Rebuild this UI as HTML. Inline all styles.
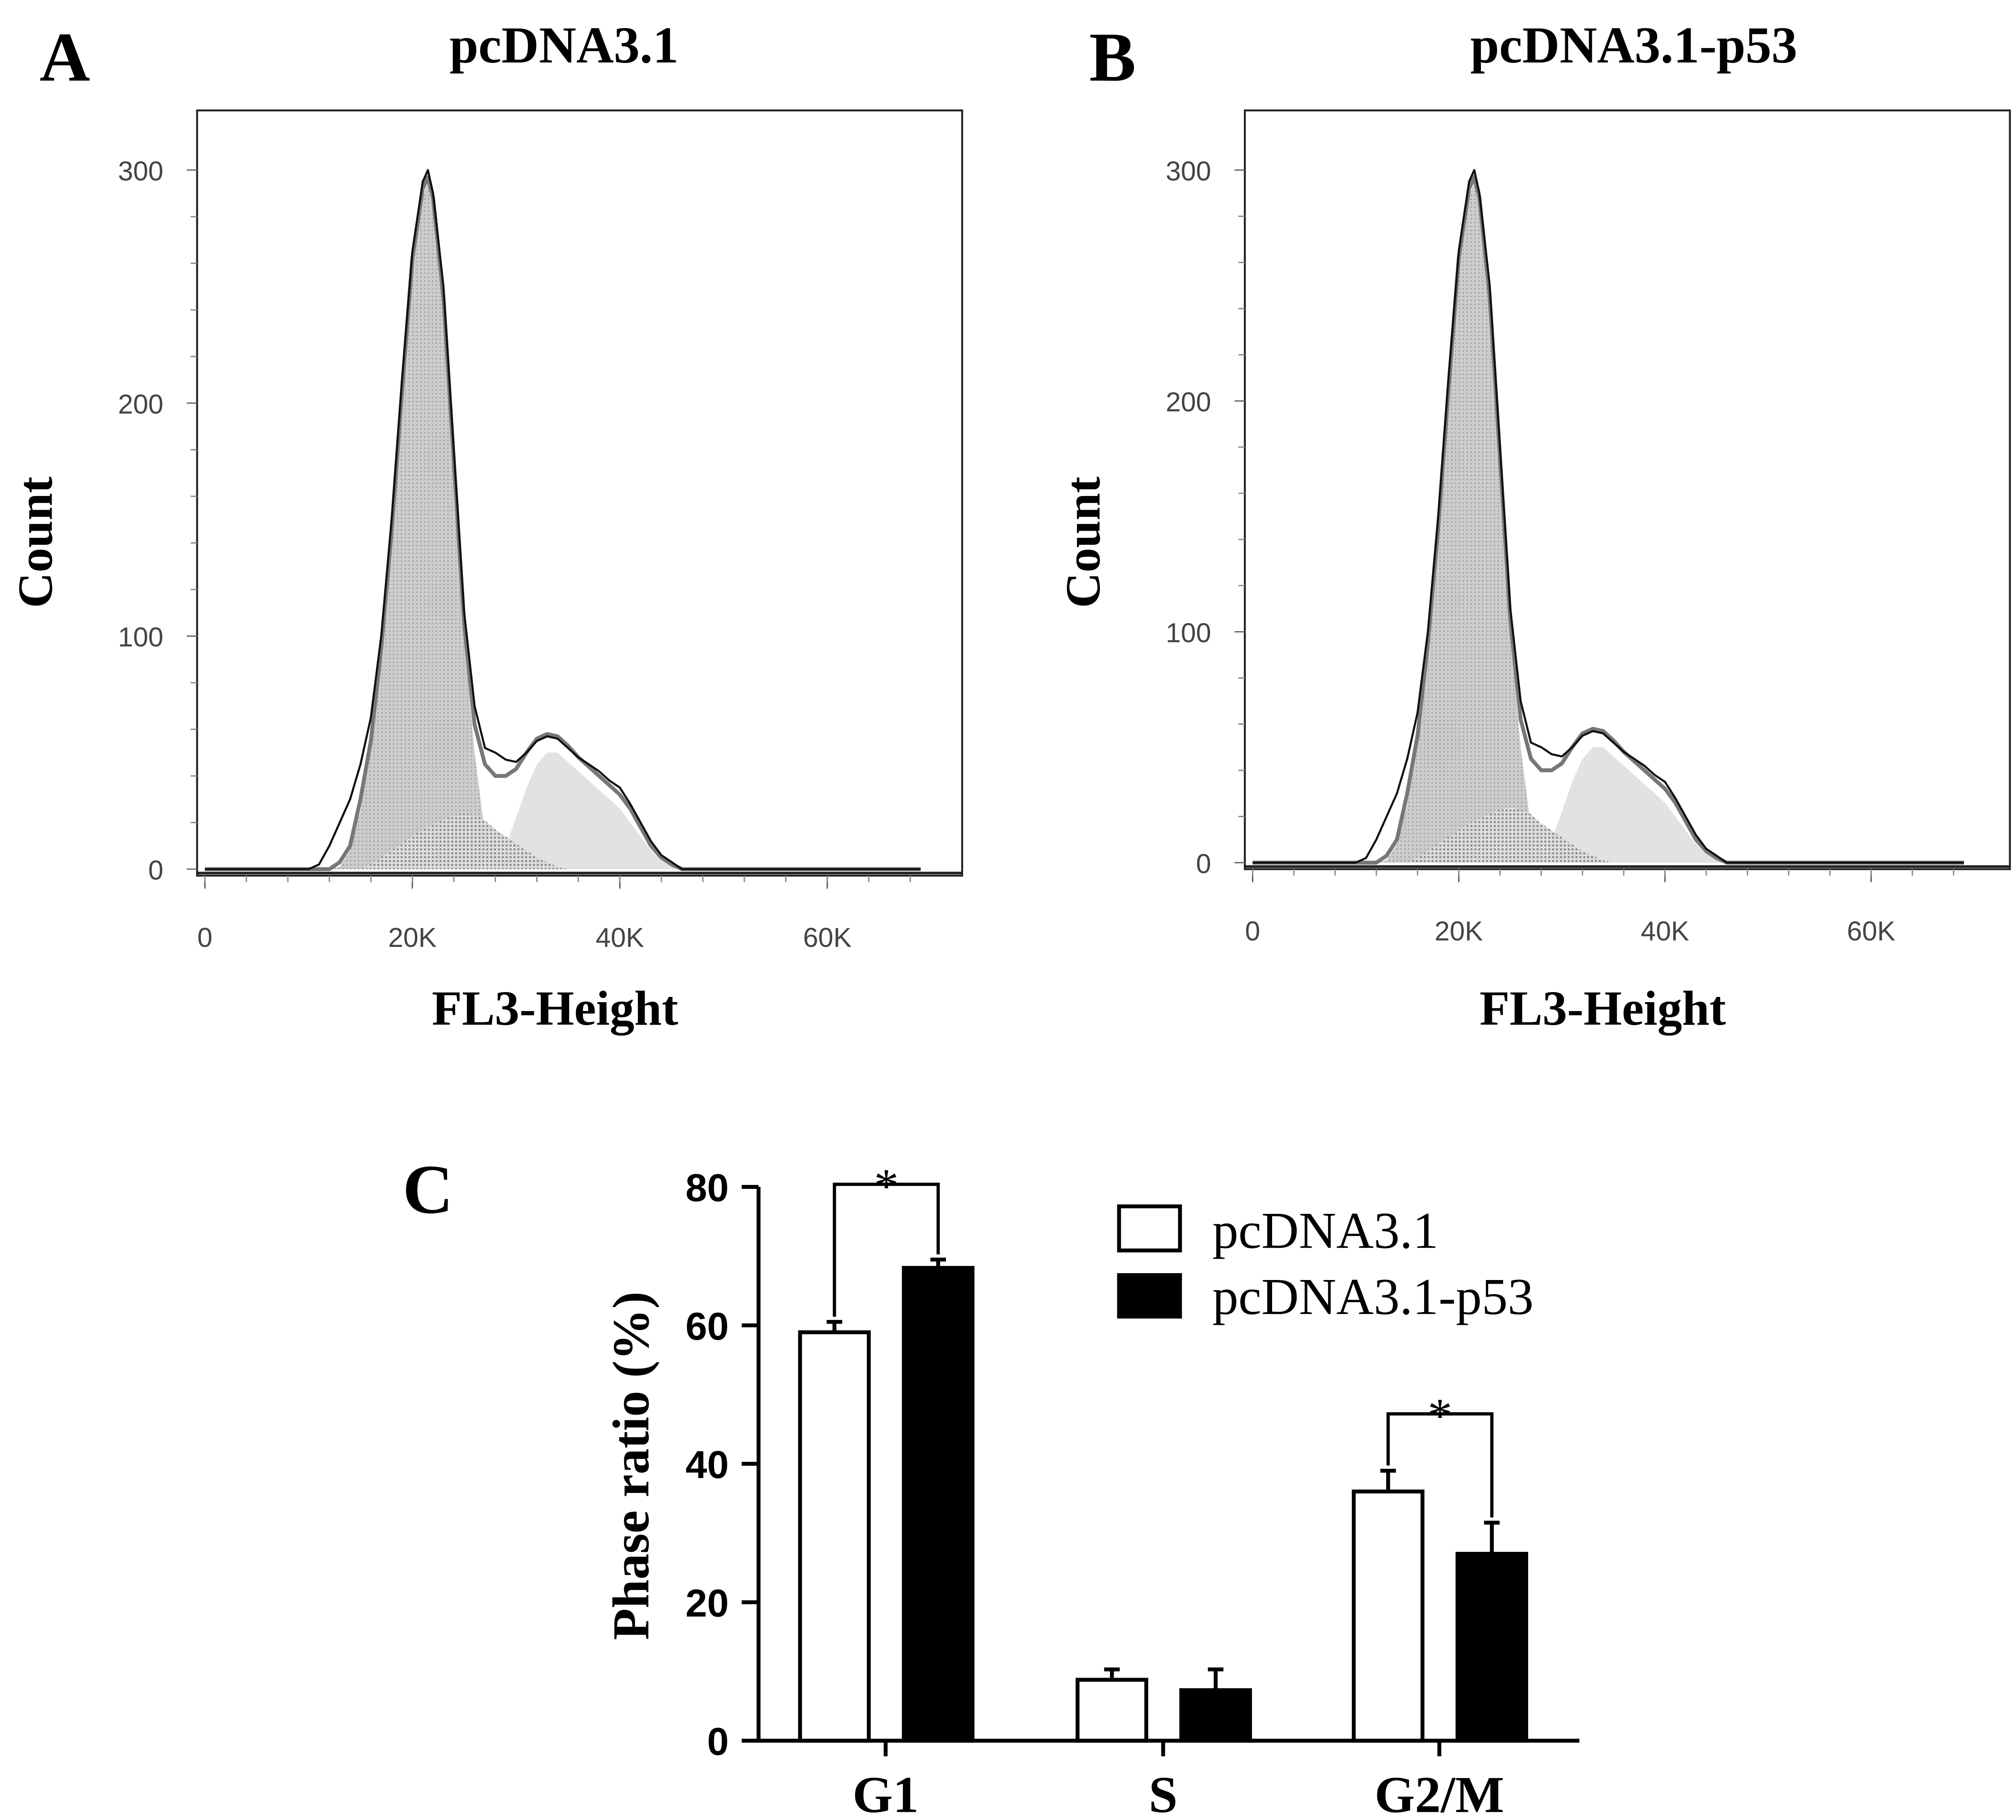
<!DOCTYPE html>
<html><head><meta charset="utf-8"><style>html,body{margin:0;padding:0;background:#fff}svg{display:block}</style></head>
<body>
<svg id="fig" xmlns="http://www.w3.org/2000/svg" width="5017" height="4513" viewBox="0 0 1560 1403">
<defs>
<pattern id="dots" width="3" height="3" patternUnits="userSpaceOnUse"><rect width="3" height="3" fill="#ccc"/><rect width="1" height="1" fill="#999"/></pattern>
<pattern id="dots2" width="3" height="3" patternUnits="userSpaceOnUse"><rect width="3" height="3" fill="#ddd"/><rect width="1.5" height="1.5" fill="#888"/></pattern>
</defs>
</svg>
<script>
// Histogram data (x in K, counts)
const histX =     [0,10,11,12,13,14,15,16,17,18,19,20,21,21.5,22,23,24,25,26,27,28,29,30,31,32,33,34,35,36,37,38,39,40,41,42,43,44,45,46,50,69];
const totalLine = [0,0,2,10,20,30,45,65,100,150,210,265,295,300,290,250,180,110,70,52,50,47,46,50,55,57,56,52,48,45,42,38,35,28,20,12,6,3,0,0,0];
const modelLine = [0,0,0,0,3,10,30,55,95,145,205,262,292,297,288,245,175,105,62,45,40,40,43,50,56,58,57,53,48,44,40,36,32,26,18,10,5,2,0,0,0];
const g1Fill =    [0,0,0,0,1,8,25,50,90,140,200,258,288,295,285,245,170,100,50,15,3,0,0,0,0,0,0,0,0,0,0,0,0,0,0,0,0,0,0,0,0];
const sFill =     [0,0,0,0,0,0,0,2,5,8,11,14,17,18,19,21,23,24,23,21,17,14,11,8,5,3,1,0,0,0,0,0,0,0,0,0,0,0,0,0,0];
const g2Fill =    [0,0,0,0,0,0,0,0,0,0,0,0,0,0,0,0,0,0,0,0,2,10,22,35,45,50,50,46,42,38,34,30,26,20,14,8,4,2,0,0,0];
const yTicks = [0,100,200,300];
const xTicks = [0,20,40,60];
const xTickLabels = ["0","20K","40K","60K"];
// Bar chart data
const categories = ["G1","S","G2/M"];
const ctrlVals = [59,8.8,36];
const ctrlErr = [1.5,1.5,3];
const p53Vals = [68.3,7.3,27];
const p53Err = [1.2,3,4.5];
const barTicks = [0,20,40,60,80];

const NS="http://www.w3.org/2000/svg";
const svg=document.getElementById('fig');
function mk(tag,attrs,parent){const e=document.createElementNS(NS,tag);for(const k in attrs)e.setAttribute(k,attrs[k]);(parent||svg).appendChild(e);return e;}
function txt(s,attrs,parent){const e=mk('text',attrs,parent);e.textContent=s;return e;}
const serif='"Liberation Serif", serif', sans='"Liberation Sans", sans-serif';

function panel(ox,label,title,y0,y300,x0,x20){
  const g=mk('g',{});
  
  
  const sx=v=>x0+(v/20)*(x20-x0), sy=v=>y0+(v/300)*(y300-y0);
  const left=ox+152, right=ox+742;
  const frame=mk('rect',{x:left,y:85,width:right-left,height:y0+5-85,fill:'none',stroke:'#222','stroke-width':1.5},g);
  
  const area=(arr,fill)=>{let d='M'+sx(histX[0])+','+sy(0);histX.forEach((x,i)=>{d+=' L'+sx(x)+','+sy(arr[i]);});d+=' L'+sx(histX[histX.length-1])+','+sy(0)+'Z';return mk('path',{d,fill,stroke:'none'},g);};
  const line=(arr,stroke,w)=>{let d='';histX.forEach((x,i)=>{d+=(i?' L':'M')+sx(x)+','+sy(arr[i]);});return mk('path',{d,fill:'none',stroke,'stroke-width':w,'stroke-linejoin':'round'},g);};
  let e=area(g2Fill,'#e2e2e2');
  e=area(g1Fill,'url(#dots)');
  e=area(sFill,'url(#dots2)');
  e=line(modelLine,'#777',3);
  e=line(totalLine,'#111',1.6);
  mk('line',{x1:left,y1:y0+3,x2:right,y2:y0+3,stroke:'#222','stroke-width':2},g);
  yTicks.forEach(v=>{const t=txt(String(v),{x:left-26,y:sy(v)+8,'font-family':sans,'font-size':21,fill:'#444','text-anchor':'end'},g);
    mk('line',{x1:left-8,y1:sy(v),x2:left,y2:sy(v),stroke:'#666'},g);});
  for(let v=20;v<320;v+=20) if(v%100) mk('line',{x1:left-5,y1:sy(v),x2:left,y2:sy(v),stroke:'#888'},g);
  xTicks.forEach((v,i)=>{const t=txt(xTickLabels[i],{x:sx(v),y:y0+60,'font-family':sans,'font-size':21,fill:'#444','text-anchor':'middle'},g);
    mk('line',{x1:sx(v),y1:y0+5,x2:sx(v),y2:y0+15,stroke:'#555'},g);});
  for(let v=0;v<=68;v+=4) mk('line',{x1:sx(v),y1:y0+5,x2:sx(v),y2:y0+10,stroke:'#888'},g);
  let t=txt(label,{x:ox+50,y:62,'font-family':serif,'font-size':54,'font-weight':'bold','text-anchor':'middle'},g);
  t=txt(title,{x:ox+(label=='A'?435:452),y:48,'font-family':serif,'font-size':40,'font-weight':'bold','text-anchor':'middle'},g);
  t=txt('Count',{x:0,y:0,transform:`translate(${ox+40},418) rotate(-90)`,'font-family':serif,'font-size':38,'font-weight':'bold','text-anchor':'middle'},g);
  t=txt('FL3-Height',{x:ox+428,y:790,'font-family':serif,'font-size':38,'font-weight':'bold','text-anchor':'middle'},g);
}
panel(0,'A','pcDNA3.1',670,131,158,318);
panel(808,'B','pcDNA3.1-p53',665,131,966,1125);

// Bar chart
const bg=mk('g',{});


const by=v=>1342-v*(1342-915)/80;
const catCenter=[683,897,1110], bw=53, gap=27;
mk('line',{x1:585,y1:915,x2:585,y2:1343,stroke:'#000','stroke-width':3},bg);
mk('line',{x1:584,y1:1342,x2:1218,y2:1342,stroke:'#000','stroke-width':3},bg);
barTicks.forEach(v=>{mk('line',{x1:572,y1:by(v),x2:585,y2:by(v),stroke:'#000','stroke-width':3},bg);
  const t=txt(String(v),{x:562,y:by(v)+11,'font-family':sans,'font-size':30,'font-weight':'bold','text-anchor':'end'},bg);});
categories.forEach((c,i)=>{
  const cx=catCenter[i];
  mk('line',{x1:cx,y1:1342,x2:cx,y2:1354,stroke:'#000','stroke-width':3},bg);
  const t=txt(c,{x:cx,y:1397,'font-family':serif,'font-size':40,'font-weight':'bold','text-anchor':'middle'},bg);
  [[ctrlVals,ctrlErr,'#fff',cx-66],[p53Vals,p53Err,'#000',cx+14]].forEach(([vals,errs,fill,x],k)=>{
    const top=by(vals[i]+errs[i]);
    mk('line',{x1:x+bw/2,y1:top,x2:x+bw/2,y2:by(vals[i]),stroke:'#000','stroke-width':3},bg);
    mk('line',{x1:x+bw/2-6,y1:top,x2:x+bw/2+6,y2:top,stroke:'#000','stroke-width':3},bg);
    const r=mk('rect',{x:x,y:by(vals[i]),width:bw,height:1342-by(vals[i]),fill,stroke:'#000','stroke-width':3},bg);
    
    
  });
});
function bracket(i,yb){
  const cx=catCenter[i], xa=cx-66+bw/2, xb=cx+14+bw/2;
  mk('path',{d:`M${xa},${by(ctrlVals[i]+ctrlErr[i])-4} L${xa},${yb} L${xb},${yb} L${xb},${by(p53Vals[i]+p53Err[i])-4}`,fill:'none',stroke:'#000','stroke-width':2.5},bg);
  const t=txt('*',{x:(xa+xb)/2,y:yb+14,'font-family':serif,'font-size':38,'text-anchor':'middle'},bg);
}
bracket(0,913);bracket(2,1090);
let t=txt('Phase ratio (%)',{x:0,y:0,transform:'translate(500,1130) rotate(-90)','font-family':serif,'font-size':40,'font-weight':'bold','text-anchor':'middle'},bg);
t=txt('C',{x:330,y:935,'font-family':serif,'font-size':54,'font-weight':'bold','text-anchor':'middle'},bg);
const lg=mk('g',{},bg);


mk('rect',{x:863,y:930,width:47,height:34,fill:'#fff',stroke:'#000','stroke-width':3},lg);
mk('rect',{x:863,y:983,width:47,height:32,fill:'#000',stroke:'#000','stroke-width':3},lg);
t=txt('pcDNA3.1',{x:935,y:962,'font-family':serif,'font-size':40},lg);
t=txt('pcDNA3.1-p53',{x:935,y:1013,'font-family':serif,'font-size':40},lg);
</script>
</body></html>
